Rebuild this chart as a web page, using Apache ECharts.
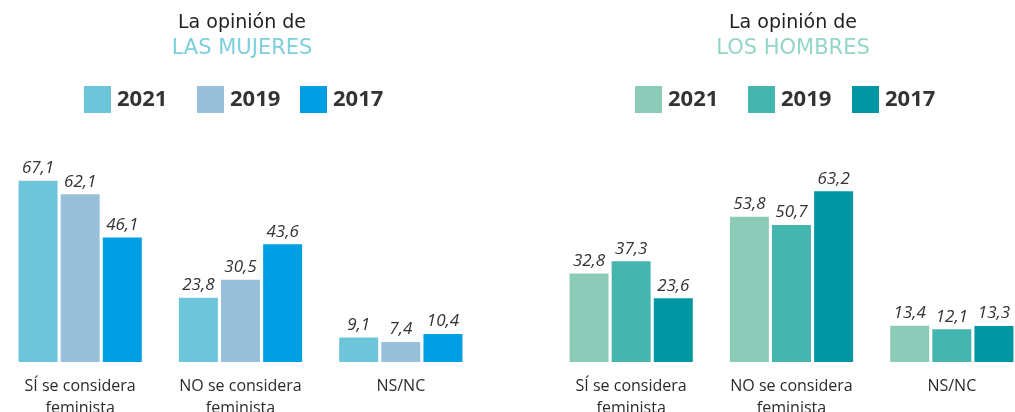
<!DOCTYPE html>
<html>
<head>
<meta charset="utf-8">
<script src="https://cdn.jsdelivr.net/npm/echarts@6/dist/echarts.min.js"></script>
<style>
  html, body { margin: 0; padding: 0; background: #fff; }
  #main { width: 1015px; height: 412px; }
</style>
</head>
<body>
<div id="main"></div>
<script>
// categories and values
var categorias = ["SÍ se considera\nfeminista", "NO se considera\nfeminista", "NS/NC"];
var years = ["2021", "2019", "2017"];

var mujeres2021 = [67.1, 23.8, 9.1];
var mujeres2019 = [62.1, 30.5, 7.4];
var mujeres2017 = [46.1, 43.6, 10.4];

var hombres2021 = [32.8, 53.8, 13.4];
var hombres2019 = [37.3, 50.7, 12.1];
var hombres2017 = [23.6, 63.2, 13.3];

var coloresMujeres = ["#6cc5d9", "#98c0da", "#009fe3"];
var coloresHombres = ["#8ccbb8", "#45b5b0", "#0097a3"];

var fontFam = "Open Sans";

function mkSeries(name, data, color, idx) {
  return {
    name: name,
    type: "bar",
    xAxisIndex: idx,
    yAxisIndex: idx,
    data: data,
    barWidth: 39,
    barGap: "8%",
    itemStyle: { color: color },
    label: {
      show: true,
      position: "top",
      distance: 4,
      fontFamily: fontFam,
      fontStyle: "italic",
      fontSize: 17,
      color: "#333",
      formatter: function (p) {
        return String(p.value).replace(".", ",");
      }
    }
  };
}

// one legend per item so each square sits where it does in the picture
function mkLegend(left, name, color) {
  return {
    left: left,
    top: 81,
    itemWidth: 27,
    itemHeight: 27,
    itemGap: 5,
    icon: "rect",
    selectedMode: false,
    textStyle: { fontFamily: fontFam, fontSize: 22, fontWeight: "bold", color: "#333", padding: [0, 0, 0, 1] },
    data: [{ name: name, itemStyle: { color: color } }]
  };
}

var legendLeftM = [79, 192, 295];
var legendLeftH = [630, 743, 847];

function mkX(idx) {
  return {
    type: "category",
    gridIndex: idx,
    data: categorias,
    axisLine: { show: false },
    axisTick: { show: false },
    axisLabel: {
      margin: 13,
      fontFamily: fontFam,
      fontSize: 16,
      lineHeight: 22,
      color: "#2b2b2b",
      interval: 0
    }
  };
}

function mkY(idx) {
  return { type: "value", gridIndex: idx, min: 0, max: 70, show: false, splitLine: { show: false } };
}

var legends = [];
years.forEach(function (y, i) {
  legends.push(mkLegend(legendLeftM[i], y, coloresMujeres[i]));
  legends.push(mkLegend(legendLeftH[i], y, coloresHombres[i]));
});

var titleFont = "DejaVu Sans";

var chart = echarts.init(document.getElementById("main"));
chart.setOption({
  animation: false,
  title: [
    {
      text: "La opinión de",
      subtext: "LAS MUJERES",
      left: 237,
      top: 9,
      textAlign: "center",
      itemGap: 5,
      textStyle: { fontFamily: titleFont, fontSize: 19, fontWeight: "normal", color: "#222" },
      subtextStyle: { fontFamily: titleFont, fontSize: 21, color: "#7ccfdc" }
    },
    {
      text: "La opinión de",
      subtext: "LOS HOMBRES",
      left: 788,
      top: 9,
      textAlign: "center",
      itemGap: 5,
      textStyle: { fontFamily: titleFont, fontSize: 19, fontWeight: "normal", color: "#222" },
      subtextStyle: { fontFamily: titleFont, fontSize: 21, color: "#93d6c7" }
    }
  ],
  legend: legends,
  grid: [
    { left: 0, width: 481, top: 173, bottom: 50, outerBoundsMode: "none", containLabel: false },
    { left: 551, width: 481, top: 173, bottom: 50, outerBoundsMode: "none", containLabel: false }
  ],
  xAxis: [mkX(0), mkX(1)],
  yAxis: [mkY(0), mkY(1)],
  series: [
    mkSeries("2021", mujeres2021, coloresMujeres[0], 0),
    mkSeries("2019", mujeres2019, coloresMujeres[1], 0),
    mkSeries("2017", mujeres2017, coloresMujeres[2], 0),
    mkSeries("2021", hombres2021, coloresHombres[0], 1),
    mkSeries("2019", hombres2019, coloresHombres[1], 1),
    mkSeries("2017", hombres2017, coloresHombres[2], 1)
  ]
});
</script>
</body>
</html>
